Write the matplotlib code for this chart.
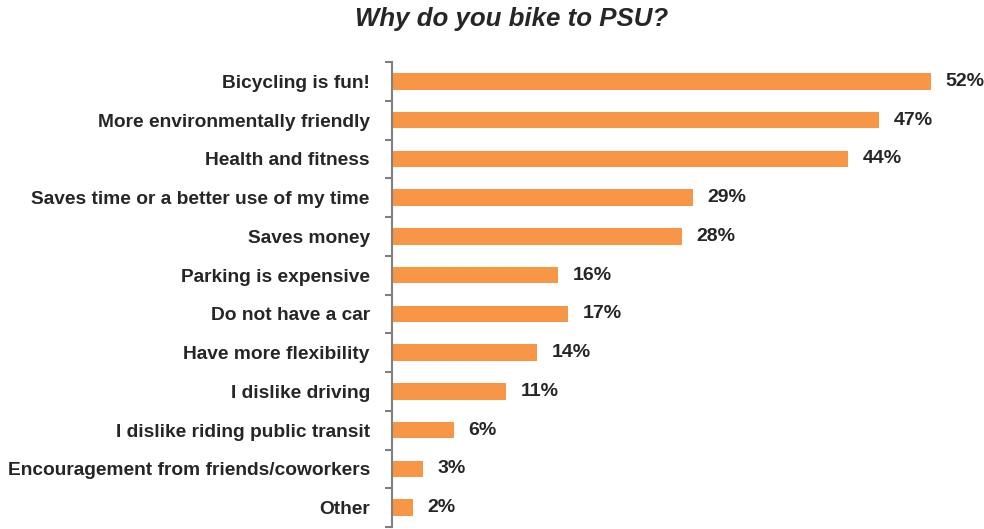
import numpy as np
import matplotlib.pyplot as plt
from matplotlib.ticker import FixedLocator

plt.rcParams['font.family'] = ['Liberation Sans', 'DejaVu Sans']

reasons = [
    "Bicycling is fun!",
    "More environmentally friendly",
    "Health and fitness",
    "Saves time or a better use of my time",
    "Saves money",
    "Parking is expensive",
    "Do not have a car",
    "Have more flexibility",
    "I dislike driving",
    "I dislike riding public transit",
    "Encouragement from friends/coworkers",
    "Other",
]
percent = [52, 47, 44, 29, 28, 16, 17, 14, 11, 6, 3, 2]

fig = plt.figure(figsize=(9.84, 5.29), dpi=100)
ax = fig.add_axes([392 / 984, 2 / 529, 592 / 984, 465 / 529])

y = np.arange(len(reasons))
ax.barh(y, percent, height=0.42, color="#F79646", zorder=2)

for yi, v in zip(y, percent):
    ax.text(v + 1.4, yi, f"{v}%", va="center", ha="left",
            fontsize=14, fontweight="bold", color="#262626")

ax.set_xlim(0, 57.1)
ax.set_ylim(len(reasons) - 0.5, -0.5)
ax.set_yticks(y)
ax.set_yticklabels(reasons, fontsize=13.8, fontweight="bold", color="#262626")
ax.yaxis.set_minor_locator(FixedLocator(np.arange(-0.5, len(reasons), 1.0)))
ax.tick_params(axis="y", which="major", length=0, pad=16)
ax.tick_params(axis="y", which="minor", length=5, width=1.5, color="#808080")
ax.set_xticks([])

for side in ("top", "right", "bottom"):
    ax.spines[side].set_visible(False)
ax.spines["left"].set_color("#808080")
ax.spines["left"].set_linewidth(1.5)

fig.text(512 / 984, 1 - 19 / 529, "Why do you bike to PSU?", ha="center", va="center",
         fontsize=18.6, fontweight="bold", fontstyle="italic", color="#262626")

fig.savefig("out.png", dpi=100)
